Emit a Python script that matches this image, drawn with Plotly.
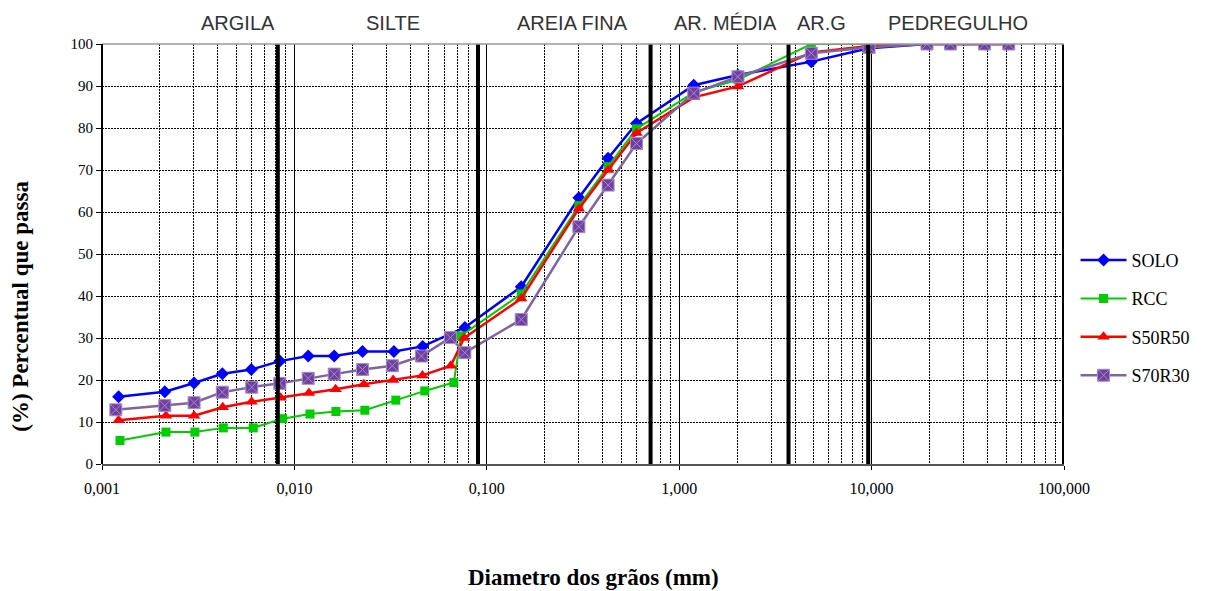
import plotly.graph_objects as go

# ---- data ----
solo_x = [0.00122, 0.00212, 0.00301, 0.00422, 0.00597, 0.0084, 0.0118, 0.0161, 0.0226, 0.0329, 0.0464,
          0.0769, 0.151, 0.301, 0.427, 0.600, 1.19, 2.02, 4.86, 9.68, 19.4, 25.7, 38.6, 51.6]
solo_y = [16.0, 17.2, 19.3, 21.5, 22.5, 24.5, 25.7, 25.7, 26.8, 26.8, 28.0,
          32.5, 42.2, 63.4, 72.8, 81.1, 90.2, 92.6, 95.8, 99.0, 100, 100, 100, 100]

rcc_x = [0.00124, 0.00215, 0.00304, 0.00427, 0.00611, 0.00868, 0.01205, 0.01644, 0.02323, 0.03367, 0.0476, 0.0674,
         0.0733, 0.151, 0.301, 0.427, 0.600, 1.19, 2.02, 4.86, 9.68, 19.4, 25.7, 38.6, 51.6]
rcc_y = [5.6, 7.6, 7.6, 8.6, 8.6, 10.8, 11.9, 12.5, 12.8, 15.2, 17.4, 19.4,
         30.5, 40.5, 61.5, 70.8, 79.8, 88.5, 91.5, 100, 100, 100, 100, 100, 100]

s50_x = [0.00122, 0.00215, 0.00301, 0.00424, 0.00599, 0.00848, 0.0119, 0.01637, 0.02296, 0.0326, 0.0463, 0.065,
         0.0762, 0.151, 0.301, 0.427, 0.600, 1.19, 2.02, 4.86, 9.68, 19.4, 25.7, 38.6, 51.6]
s50_y = [10.4, 11.5, 11.5, 13.5, 14.8, 15.8, 16.9, 17.8, 19.0, 20.0, 21.1, 23.4,
         30.0, 39.4, 60.8, 70.0, 78.8, 87.3, 89.9, 98.0, 99.5, 100, 100, 100, 100]

s70_x = [0.00118, 0.00212, 0.00301, 0.00422, 0.0060, 0.0084, 0.0118, 0.0161, 0.0226, 0.0323, 0.0457, 0.0647,
         0.0769, 0.151, 0.301, 0.427, 0.600, 1.19, 2.02, 4.86, 9.7, 19.4, 25.7, 38.6, 51.6]
s70_y = [12.9, 13.9, 14.6, 17.1, 18.3, 19.2, 20.4, 21.4, 22.5, 23.4, 25.7, 30.1,
         26.5, 34.4, 56.5, 66.4, 76.3, 88.3, 92.2, 97.8, 99.2, 100, 100, 100, 100]

# boundaries between soil fractions (mm)
boundaries = [0.0082, 0.09, 0.71, 3.7, 9.6, 100]
zone_labels = ["ARGILA", "SILTE", "AREIA FINA", "AR. MÉDIA", "AR.G", "PEDREGULHO"]
zone_label_pos = [0.1414, 0.3025, 0.4896, 0.6486, 0.7484, 0.8898]

x_tickvals = [0.001, 0.01, 0.1, 1, 10, 100]
x_ticktext = ["0,001", "0,010", "0,100", "1,000", "10,000", "100,000"]

serif = "Liberation Serif, Times New Roman, serif"
sans = "Liberation Sans, Arial, sans-serif"

fig = go.Figure()

series = [
    ("SOLO", solo_x, solo_y, "#0000FF", "#0000FF", "diamond", 10, 2.5),
    ("RCC", rcc_x, rcc_y, "#00CC00", "#00CC00", "square", 9, 2),
    ("S50R50", s50_x, s50_y, "#FF0000", "#FF0000", "triangle-up", 11, 2.5),
    ("S70R30", s70_x, s70_y, "#8064A2", "#7040A0", "square-x", 12, 2.5),
]
for i, (name, xs, ys, lc, mc, sym, ms, lw) in enumerate(series):
    mline = dict(width=1, color="#A58CC8") if sym == "square-x" else dict(width=0)
    fig.add_trace(go.Scatter(
        x=xs, y=ys, name=name, mode="lines+markers",
        line=dict(color=lc, width=lw),
        marker=dict(symbol=sym, size=ms, color=mc, line=mline),
        legendgroup=name,
    ))

shapes = []
for b in boundaries:
    shapes.append(dict(type="line", xref="x", yref="paper", x0=b, x1=b, y0=0, y1=1,
                       line=dict(color="black", width=4), layer="above"))
shapes.append(dict(type="line", xref="paper", yref="paper", x0=0, x1=1, y0=1, y1=1,
                   line=dict(color="#999999", width=1.5)))
shapes.append(dict(type="line", xref="paper", yref="paper", x0=0, x1=0, y0=0, y1=1,
                   line=dict(color="black", width=2)))

annotations = []
for lab, p in zip(zone_labels, zone_label_pos):
    annotations.append(dict(text=lab, x=p, y=1.05, xref="paper", yref="paper",
                            showarrow=False, xanchor="center", yanchor="middle",
                            font=dict(family=sans, size=20, color="#333333")))
annotations.append(dict(text="<b>Diametro dos grãos (mm)</b>", x=0.5104, y=-0.2714,
                        xref="paper", yref="paper", showarrow=False,
                        xanchor="center", yanchor="middle",
                        font=dict(family=serif, size=23, color="black")))
annotations.append(dict(text="<b>(%) Percentual que passa</b>", x=-0.085, y=0.375,
                        xref="paper", yref="paper", showarrow=False, textangle=-90,
                        xanchor="center", yanchor="middle",
                        font=dict(family=serif, size=23, color="black")))

fig.update_layout(
    width=1208, height=591,
    margin=dict(l=94, r=152, t=36, b=135),
    paper_bgcolor="white", plot_bgcolor="white",
    showlegend=True,
    legend=dict(x=1.012, y=0.348, xanchor="left", yanchor="middle",
                font=dict(family=serif, size=18, color="black"),
                traceorder="grouped", tracegroupgap=12, itemwidth=46,
                bgcolor="rgba(0,0,0,0)"),
    shapes=shapes,
    annotations=annotations,
    xaxis=dict(
        type="log", range=[-3, 2],
        tickmode="array", tickvals=x_tickvals, ticktext=x_ticktext,
        tickfont=dict(family=serif, size=16, color="black"),
        ticks="outside", ticklen=4, tickcolor="black",
        ticklabelstandoff=5,
        showgrid=True, gridcolor="black", gridwidth=1,
        showline=True, linecolor="#555555", linewidth=2,
        minor=dict(dtick="D1", showgrid=True, gridcolor="black", gridwidth=1,
                   griddash="2px,1px", ticks=""),
        zeroline=False,
    ),
    yaxis=dict(
        range=[0, 100], dtick=10,
        tickfont=dict(family=serif, size=15, color="black"),
        ticks="outside", ticklen=5, tickcolor="black",
        showgrid=True, gridcolor="black", gridwidth=1, griddash="2px,1px",
        showline=False, zeroline=False,
    ),
)

fig.write_html("out.html")
